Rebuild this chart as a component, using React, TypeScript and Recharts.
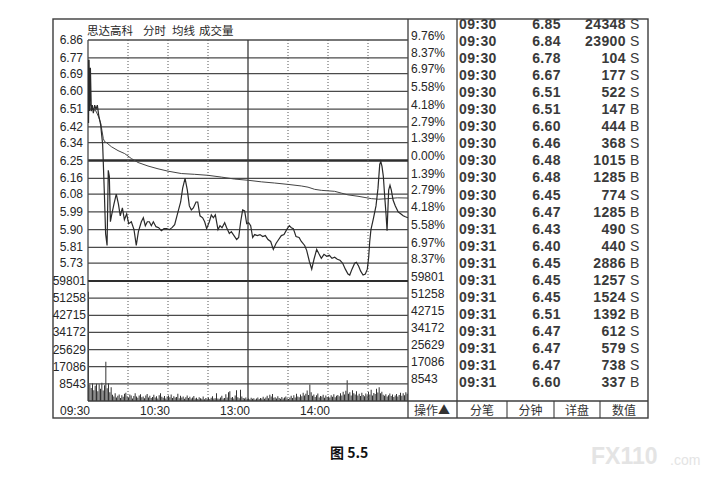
import { Bar, ComposedChart, Line, ReferenceLine, XAxis, YAxis } from "recharts";

const INK = "#262626";
const GRID = "#4a4a4a";
const LATIN = "'Liberation Sans', Arial, sans-serif";
const CJK = "'Noto Sans CJK SC', 'Noto Sans', sans-serif";

const PREV_CLOSE = 6.25;
const priceTicks = [6.86, 6.77, 6.69, 6.6, 6.51, 6.42, 6.34, 6.25, 6.16, 6.08, 5.99, 5.9, 5.81, 5.73];
const pctLabels = ["9.76%", "8.37%", "6.97%", "5.58%", "4.18%", "2.79%", "1.39%", "0.00%", "1.39%", "2.79%", "4.18%", "5.58%", "6.97%", "8.37%"];
const volTicks = [59801, 51258, 42715, 34172, 25629, 17086, 8543];
const timeTicks = [0, 60, 120, 180];
const timeLabels = ["09:30", "10:30", "13:00", "14:00"];
const gridMinutes = [30, 60, 90, 120, 150, 180, 210];

// minute-line (minute from 09:30, price)
const priceMinutes = [
  0, 0.4, 0.8, 1.3, 1.8, 2.5, 3.2, 4, 5, 6, 7, 8, 9.5, 11, 12.3, 13.2, 14.3, 15.2, 16, 16.8,
  17.6, 19.5, 21.2, 22.8, 24.2, 25.8, 27.3, 29, 30.5, 32.5, 34.5, 36.2, 37.8, 40, 41.5, 43, 44.5, 46, 47.5, 49,
  51, 53, 55, 57, 59, 61, 63, 65, 67.5, 69.5, 71, 72.8, 74.5, 76, 77.5, 79, 81, 82.3, 84, 86,
  87.5, 89, 91, 92.5, 94, 95.5, 97.5, 99, 100.5, 102.5, 104, 106, 107.5, 109.5, 111.5, 113, 114.5, 116, 117.5, 119,
  120.5, 122, 123.5, 125, 127, 129, 131, 133, 135, 137, 139, 141, 143, 145, 147, 149, 151, 152.5, 154, 156,
  158.3, 160, 162.5, 164, 166, 167.8, 169.5, 171.5, 173, 175, 177, 179, 181, 183, 185, 187, 189, 191, 193, 195,
  196.3, 198, 200, 201.3, 203, 204.5, 206.3, 208, 209.5, 210.5, 211.3, 212.2, 214, 216, 217.5, 218.8, 219.6, 220.5, 221.5, 222.5,
  223.5, 224.3, 225.5, 226.5, 227.5, 228.8, 230.5, 232.6, 234.5, 236.4, 238, 240,
];
const priceValues = [
  6.76, 6.44, 6.76, 6.5, 6.72, 6.5, 6.53, 6.49, 6.53, 6.51, 6.53, 6.48, 6.43, 6.33, 6.08, 5.88, 5.82, 6.2, 6.17, 5.94,
  5.97, 6.03, 6.08, 6.03, 5.97, 6.01, 5.95, 5.98, 5.93, 5.94, 5.9, 5.82, 5.89, 5.94, 5.96, 5.92, 5.94, 5.94, 5.92, 5.94,
  5.915, 5.91, 5.895, 5.905, 5.905, 5.9, 5.91, 5.925, 5.99, 6.04, 6.11, 6.16, 6.1, 6.02, 6.0, 6.01, 6.04, 6.04, 5.97, 5.96,
  5.94, 5.905, 5.94, 5.975, 5.96, 5.975, 5.9, 5.92, 5.91, 5.935, 5.91, 5.88, 5.89, 5.87, 5.85, 5.86, 5.94, 6.0, 5.995, 5.93,
  5.935, 5.92, 5.86, 5.875, 5.87, 5.875, 5.865, 5.87, 5.85, 5.84, 5.8, 5.83, 5.85, 5.87, 5.875, 5.9, 5.92, 5.91, 5.905, 5.865,
  5.86, 5.84, 5.82, 5.795, 5.74, 5.7, 5.75, 5.8, 5.78, 5.755, 5.775, 5.765, 5.77, 5.755, 5.76, 5.75, 5.745, 5.73, 5.7, 5.675,
  5.67, 5.7, 5.73, 5.735, 5.715, 5.69, 5.67, 5.675, 5.7, 5.76, 5.84, 5.9, 5.955, 6.02, 6.11, 6.23, 6.245, 6.22, 6.17, 6.07,
  5.98, 5.895, 6.1, 6.125, 6.1, 6.05, 6.02, 5.99, 5.98, 5.97, 5.965, 5.96,
];

// average-price line
const avgMinutes = [
  0, 2, 4, 6, 8, 9.5, 10.5, 11.5, 12.5, 14, 17.5, 22.5, 27.5, 32.5, 37.5, 45, 52.5, 60, 70, 80,
  90, 100, 110, 120, 130, 140, 150, 160, 165, 170, 175, 185, 190, 195, 202.5, 212.5, 218, 225, 232, 240,
];
const avgValues = [
  6.56, 6.53, 6.51, 6.5, 6.47, 6.44, 6.4, 6.36, 6.345, 6.34, 6.32, 6.3, 6.285, 6.26, 6.24, 6.222, 6.208, 6.196, 6.184, 6.18,
  6.175, 6.166, 6.156, 6.15, 6.142, 6.136, 6.129, 6.121, 6.115, 6.104, 6.099, 6.094, 6.085, 6.076, 6.069, 6.057, 6.054, 6.057, 6.061, 6.06,
];

// per-minute volume, 240 bars
const volumes = [
  54400, 8200, 6500, 8900, 5400, 7600, 8600, 4800, 8300, 6100, 9100, 5200, 7800, 19500, 6400, 8800, 4300, 6900, 3100, 2200,
  3900, 1800, 2600, 3300, 1500, 2900, 2100, 3600, 4100, 2400, 1700, 3200, 2800, 1300, 2500, 3900, 2200, 1600, 2700, 3400,
  1900, 2300, 1400, 2800, 3500, 1800, 2600, 1500, 2000, 3100, 1700, 2400, 1200, 2900, 3800, 2100, 1600, 2500, 1300, 2200,
  2700, 1900, 3300, 1500, 2400, 1800, 2000, 3600, 1400, 2600, 1700, 2300, 1100, 1900, 2800, 1500, 2100, 1300, 1800, 2500,
  1200, 1600, 1000, 1900, 1400, 1100, 2200, 900, 1500, 1300, 1800, 1000, 1600, 2400, 1200, 1400, 3900, 1300, 1100, 1700,
  2600, 1200, 1500, 3400, 1800, 4300, 4800, 1600, 2000, 1300, 2700, 5300, 1900, 1400, 5600, 2200, 1500, 1200, 1800, 1000,
  1300, 900, 1600, 1100, 1400, 800, 1200, 1700, 1000, 1500, 1300, 2100, 1100, 1800, 2600, 1400, 3100, 2200, 3500, 1600,
  1900, 1200, 2400, 1500, 1100, 2000, 1300, 1700, 2300, 1400, 1000, 1800, 2600, 1500, 2900, 1700, 3600, 2200, 1900, 3200,
  2400, 4100, 2800, 3600, 5200, 3000, 8200, 4400, 2600, 3300, 2000, 2900, 3700, 1800, 2500, 2200, 3100, 1600, 2700, 2000,
  2300, 1700, 2900, 2100, 3400, 1900, 2600, 3000, 2400, 3800, 2700, 4600, 3300, 5100, 10300, 3600, 4400, 2800, 5400, 3900,
  3200, 4800, 2700, 3600, 2500, 4100, 3000, 2400, 3700, 2900, 4500, 3300, 5600, 2800, 4000, 3500, 6100, 4200, 6900, 3800,
  4600, 3100, 2600, 3400, 2200, 2900, 3700, 2500, 3200, 2000, 2800, 3500, 2300, 3000, 4100, 2600, 3900, 2900, 4400, 3600,
];

// tick-by-tick list on the right
const tradeTimes = [
  "09:30", "09:30", "09:30", "09:30", "09:30", "09:30", "09:30", "09:30", "09:30", "09:30", "09:30", "09:30",
  "09:31", "09:31", "09:31", "09:31", "09:31", "09:31", "09:31", "09:31", "09:31", "09:31",
];
const tradePrices = ["6.85", "6.84", "6.78", "6.67", "6.51", "6.51", "6.60", "6.46", "6.48", "6.48", "6.45", "6.47", "6.43", "6.40", "6.45", "6.45", "6.45", "6.51", "6.47", "6.47", "6.47", "6.60"];
const tradeVols = [24348, 23900, 104, 177, 522, 147, 444, 368, 1015, 1285, 774, 1285, 490, 440, 2886, 1257, 1524, 1392, 612, 579, 738, 337];
const tradeSides = ["S", "S", "S", "S", "S", "B", "B", "S", "B", "B", "S", "B", "S", "S", "B", "S", "S", "B", "S", "S", "S", "B"];

const titleParts = ["思达高科", "分时", "均线", "成交量"];
const tabLabels = ["操作▲", "分笔", "分钟", "详盘", "数值"];

const priceData = priceMinutes.map((m, i) => ({ m, p: priceValues[i] }));
const avgData = avgMinutes.map((m, i) => ({ m, a: avgValues[i] }));
const volData = volumes.map((v, i) => ({ m: i + 0.5, v }));

const CHART_LEFT = 45;
const axisText = { fontFamily: LATIN, fontSize: 12, fill: INK };
const RIGHT_LABEL_X = 411 - CHART_LEFT;

// one tick draws the label on both sides of the plot
const priceTick = (props: any) => (
  <g>
    <text x={83 - CHART_LEFT} y={props.y} textAnchor="end" dominantBaseline="central" {...axisText}>
      {Number(props.payload.value).toFixed(2)}
    </text>
    <text x={RIGHT_LABEL_X} y={props.y - 4.5} textAnchor="start" dominantBaseline="central" {...axisText}>
      {pctLabels[props.index]}
    </text>
  </g>
);
const volTick = (props: any) => (
  <g>
    <text x={86 - CHART_LEFT} y={props.y} textAnchor="end" dominantBaseline="central" {...axisText}>
      {props.payload.value}
    </text>
    <text x={RIGHT_LABEL_X} y={props.y - 4.5} textAnchor="start" dominantBaseline="central" {...axisText}>
      {props.payload.value}
    </text>
  </g>
);
const timeTick = (props: any) => (
  <text x={props.x + 2} y={140} textAnchor="end" dominantBaseline="central" {...axisText}>
    {timeLabels[props.index]}
  </text>
);

const vGrid = (m: number) => (
  <ReferenceLine
    key={`v${m}`}
    x={m}
    stroke={m === 120 ? "#3a3a3a" : "#555"}
    strokeWidth={m === 120 ? 1.3 : 1}
    strokeDasharray={m === 120 ? undefined : "1 2"}
  />
);

const tabCenters = [432, 482, 530.5, 577, 624];
const titleX = [87, 143, 172, 199];

export default function App() {
  return (
    <div style={{ position: "absolute", left: 0, top: 0, width: 715, height: 480, background: "#fff", overflow: "hidden" }}>
      <svg width={715} height={480} style={{ position: "absolute", left: 0, top: 0 }}>
        <rect x={53} y={19} width={595} height={399} fill="none" stroke="#3c3c3c" strokeWidth={1.4} />
        <line x1={408} y1={19} x2={408} y2={418} stroke="#3c3c3c" strokeWidth={1.3} />
        <line x1={457} y1={19} x2={457} y2={418} stroke="#3c3c3c" strokeWidth={1.3} />
        <line x1={408} y1={401} x2={648} y2={401} stroke="#3c3c3c" strokeWidth={1.3} />
        {[507, 554, 600].map((x) => (
          <line key={x} x1={x} y1={401} x2={x} y2={418} stroke="#3c3c3c" strokeWidth={1.1} />
        ))}
        {titleParts.map((t, i) => (
          <text key={t} x={titleX[i]} y={29.5} dominantBaseline="central" fontFamily={CJK} fontSize={11.5} fill={INK}>
            {t}
          </text>
        ))}
        {tabLabels.map((t, i) => (
          <text key={t} x={tabCenters[i]} y={409.5} textAnchor="middle" dominantBaseline="central" fontFamily={CJK} fontSize={12} fill="#333">
            {t}
          </text>
        ))}
        {tradeTimes.map((t, i) => {
          const y = 24 + i * 17.05;
          return (
            <g key={i} fontFamily={LATIN} fontSize={14} fontWeight="bold" fill="#3a3a3a" letterSpacing={0.4}>
              <text x={459} y={y} dominantBaseline="central">{t}</text>
              <text x={561} y={y} textAnchor="end" dominantBaseline="central">{tradePrices[i]}</text>
              <text x={626} y={y} textAnchor="end" dominantBaseline="central">{tradeVols[i]}</text>
              <text x={630} y={y} dominantBaseline="central" fontWeight="normal">{tradeSides[i]}</text>
            </g>
          );
        })}
        <text x={330} y={452} dominantBaseline="central" fontFamily={CJK} fontSize={14} fontWeight="bold" fill="#111">
          图 5.5
        </text>
        <text x={591} y={456} dominantBaseline="central" fontFamily={LATIN} fontSize={23} fontWeight="bold" fill="#e4e4e4">
          FX110
        </text>
        <text x={670} y={460} dominantBaseline="central" fontFamily={LATIN} fontSize={14} fill="#e4e4e4">
          .com
        </text>
      </svg>

      <div style={{ position: "absolute", left: CHART_LEFT, top: 30 }}>
        <ComposedChart width={412} height={261} margin={{ top: 10, right: 49, bottom: 10, left: 0 }}>
          <XAxis type="number" dataKey="m" domain={[0, 240]} hide allowDataOverflow />
          <YAxis domain={[5.64, 6.86]} ticks={priceTicks} interval={0} width={43} axisLine={false} tickLine={false} tick={priceTick} allowDataOverflow />
          {priceTicks.map((t) => (
            <ReferenceLine key={`h${t}`} y={t} stroke={t === PREV_CLOSE ? "#2e2e2e" : GRID} strokeWidth={t === PREV_CLOSE ? 2.6 : 1.3} />
          ))}
          <ReferenceLine x={0} stroke={GRID} strokeWidth={1.3} />
          {gridMinutes.map(vGrid)}
          <Line data={avgData} dataKey="a" type="linear" stroke="#444" strokeWidth={1} dot={false} isAnimationActive={false} />
          <Line data={priceData} dataKey="p" type="linear" stroke="#2a2a2a" strokeWidth={1.2} dot={false} isAnimationActive={false} />
        </ComposedChart>
      </div>

      <div style={{ position: "absolute", left: CHART_LEFT, top: 271 }}>
        <ComposedChart width={412} height={147} data={volData} margin={{ top: 10, right: 49, bottom: 0, left: 0 }}>
          <XAxis type="number" dataKey="m" domain={[0, 240]} ticks={timeTicks} interval={0} height={17} axisLine={{ stroke: "#3c3c3c", strokeWidth: 1.3 }} tickLine={false} tick={timeTick} allowDataOverflow />
          <YAxis domain={[0, 59801]} ticks={volTicks} interval={0} width={43} axisLine={false} tickLine={false} tick={volTick} allowDataOverflow />
          {volTicks.map((t) => (
            <ReferenceLine key={`h${t}`} y={t} stroke={t === volTicks[0] ? "#2e2e2e" : GRID} strokeWidth={t === volTicks[0] ? 2.2 : 1.3} />
          ))}
          <ReferenceLine x={0} stroke={GRID} strokeWidth={1.3} />
          {gridMinutes.map(vGrid)}
          <Bar dataKey="v" fill="#333" barSize={1} isAnimationActive={false} />
        </ComposedChart>
      </div>
    </div>
  );
}
